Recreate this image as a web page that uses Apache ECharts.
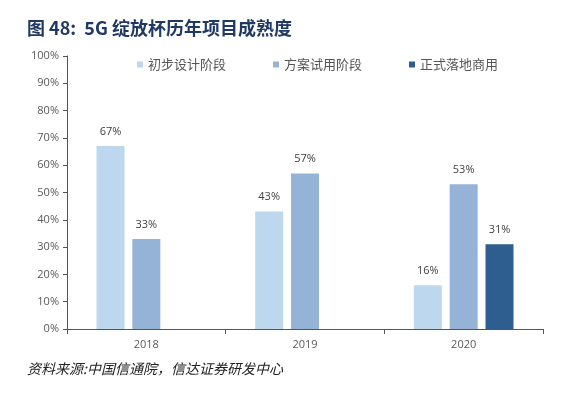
<!DOCTYPE html>
<html><head><meta charset="utf-8">
<script src="https://cdn.jsdelivr.net/npm/echarts@6/dist/echarts.min.js"></script>
<style>html,body{margin:0;padding:0;background:#fff;}#c{width:563px;height:395px;}</style>
</head><body><div id="c"></div>
<script>
const categories = ['2018', '2019', '2020'];
const seriesNames = ['初步设计阶段', '方案试用阶段', '正式落地商用'];
const stage1 = [67, 43, 16];
const stage2 = [33, 57, 53];
const stage3 = [null, null, 31];
const yTicks = [0, 10, 20, 30, 40, 50, 60, 70, 80, 90, 100];
const colors = ['#bdd7ee', '#95b3d7', '#2e5d8f'];

const chart = echarts.init(document.getElementById('c'));
const data = [stage1, stage2, stage3];
chart.setOption({
  animation: false,
  backgroundColor: '#fff',
  title: [{
    text: '图 48:  5G 绽放杯历年项目成熟度',
    left: 22, top: 14,
    textStyle: {fontSize: 18, fontWeight: 'bold', color: '#1f3864', fontFamily: '"Noto Sans CJK SC", sans-serif'}
  }, {
    text: '资料来源:中国信通院，信达证券研发中心',
    left: 22, top: 357,
    textStyle: {fontSize: 14, fontWeight: 'normal', fontStyle: 'italic', color: '#222', fontFamily: '"Noto Sans CJK SC", sans-serif'}
  }],
  legend: {
    top: 53, left: 132, itemGap: 47,
    itemWidth: 6, itemHeight: 6, icon: 'rect',
    textStyle: {fontSize: 13, color: '#555', fontFamily: '"Noto Sans CJK SC", sans-serif'},
    data: seriesNames
  },
  grid: {left: 67, right: 20, top: 56, bottom: 66},
  xAxis: {
    type: 'category', data: categories,
    axisLine: {lineStyle: {color: '#555', width: 1}},
    axisTick: {show: true, alignWithLabel: false, lineStyle: {color: '#555'}},
    axisLabel: {color: '#595959', fontSize: 11, margin: 10, fontFamily: '"Open Sans", sans-serif'}
  },
  yAxis: {
    type: 'value', min: 0, max: 100, interval: 10,
    axisLine: {show: true, lineStyle: {color: '#555', width: 1}},
    axisTick: {show: true, inside: false, length: 4, lineStyle: {color: '#555'}},
    splitLine: {show: false},
    axisLabel: {color: '#595959', fontSize: 11, margin: 8, fontFamily: '"Open Sans", sans-serif',
      formatter: v => yTicks.includes(v) ? v + '%' : ''}
  },
  series: seriesNames.map((n, i) => ({
    name: n, type: 'bar', data: data[i],
    barWidth: 28, barGap: '28%',
    itemStyle: {color: colors[i]},
    label: {show: true, position: 'top', distance: 9, formatter: p => p.value + '%',
      color: '#404040', fontSize: 11, fontFamily: '"Open Sans", sans-serif'}
  }))
});
</script></body></html>
